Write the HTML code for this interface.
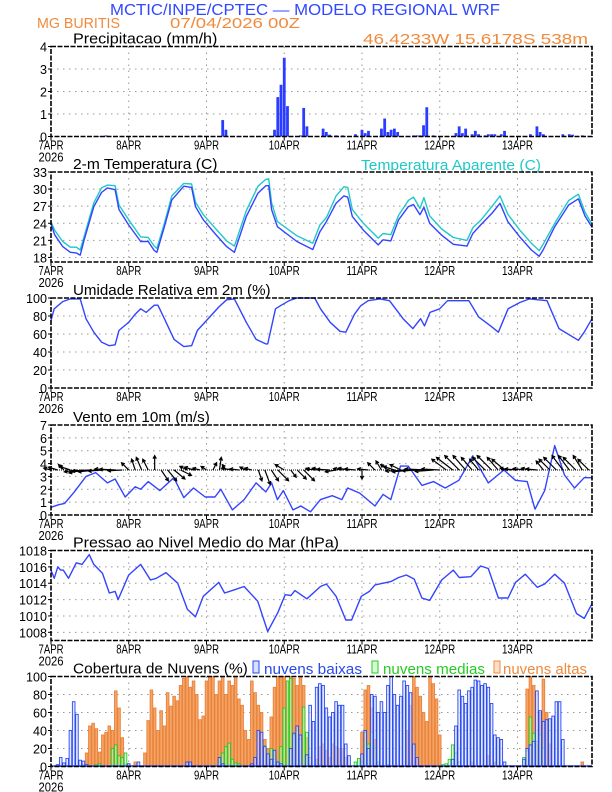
<!DOCTYPE html>
<html><head><meta charset="utf-8"><style>
html,body{margin:0;padding:0;background:#fff}
svg{display:block;font-family:"Liberation Sans",sans-serif}
</style></head><body>
<svg id="chart" width="612" height="792" viewBox="0 0 612 792" xmlns="http://www.w3.org/2000/svg">
<rect x="0" y="0" width="612" height="792" fill="#fff"/>
<text x="110" y="15" font-size="16" fill="#3048ff" textLength="390" lengthAdjust="spacingAndGlyphs">MCTIC/INPE/CPTEC — MODELO REGIONAL WRF</text>
<text x="37" y="28" font-size="15" fill="#f08a3c" textLength="83" lengthAdjust="spacingAndGlyphs">MG BURITIS</text>
<text x="170" y="28" font-size="15" fill="#f08a3c" textLength="130" lengthAdjust="spacingAndGlyphs">07/04/2026 00Z</text>
<text x="363" y="44" font-size="15" fill="#f08a3c" textLength="225" lengthAdjust="spacingAndGlyphs">46.4233W 15.6178S 538m</text>
<text x="361" y="170" font-size="15" fill="#20c8c8" textLength="180" lengthAdjust="spacingAndGlyphs">Temperatura Aparente (C)</text>
<g>
<rect x="253" y="661" width="6" height="12" fill="#d8e0ff" stroke="#2848ee"/>
<text x="264" y="674" font-size="15" fill="#2848ee" textLength="98" lengthAdjust="spacingAndGlyphs">nuvens baixas</text>
<rect x="372" y="661" width="6" height="12" fill="#d8ffd8" stroke="#22cc22"/>
<text x="383" y="674" font-size="15" fill="#22cc22" textLength="102" lengthAdjust="spacingAndGlyphs">nuvens medias</text>
<rect x="494" y="661" width="6" height="12" fill="#ffe0c8" stroke="#f08a3c"/>
<text x="503" y="674" font-size="15" fill="#f08a3c" textLength="84" lengthAdjust="spacingAndGlyphs">nuvens altas</text>
</g>
</svg>
<script>
// ---------- data ----------
const dayLabels = ["7APR","8APR","9APR","10APR","11APR","12APR","13APR"];
const precipHours = [15,17,46,53,54,69,70,71,72,73,77,78,79,84,85,86,88,90,94,96,97,98,102,103,104,105,106,107,112,113,114,115,116,118,125,126,127,128,130,131,132,134,135,136,137,139,140,148,150,151,152,158,160,161,164];
const precipValues = [0.02,0.05,0.05,0.73,0.3,0.3,1.75,2.3,3.5,1.35,0.05,1.27,0.45,0.35,0.2,0.08,0.05,0.05,0.1,0.3,0.15,0.25,0.35,0.8,0.2,0.3,0.35,0.2,0.05,0.05,0.05,0.5,1.3,0.05,0.15,0.45,0.15,0.35,0.1,0.25,0.1,0.05,0.1,0.1,0.1,0.1,0.25,0.1,0.45,0.2,0.1,0.1,0.1,0.08,0.05];

const tempHours = [0,1.1,3.6,6,7.8,9,10.2,13.2,15.6,17.4,19.8,21,24,27.7,30,31.9,32.7,35,37.3,41,43.4,44.6,47,50.6,54.2,56.6,60.3,63.9,66.3,67.2,68.1,69.9,75.9,80.8,83,85,88,90.4,91.6,93,96.4,101,102.5,104.9,107.3,110.3,111.9,113.9,115.1,116.9,120.6,124.2,128.4,130.2,132.6,136.2,138.6,141,144.7,148.3,150.7,151.9,155.5,159.8,162.8,164.8,167];
const tempValues = [24.0,22,19.9,18.9,18.8,18.4,21,26.9,29.4,30.2,29.9,26.4,23.7,20.8,20.8,19.2,18.9,23.4,28.1,30.5,30.3,26.9,24.6,22.2,19.9,18.9,25.2,29.3,30.6,30.6,26.4,23.4,20.8,19.4,22.5,24.3,27.5,28.8,28.6,25.2,22.8,20.2,21.1,20.9,24.6,26.9,27.3,25.5,26.8,24,21.9,20.3,20.0,22.2,23.7,25.8,27.5,24.3,21.6,19.3,18.2,19.3,23.4,27.2,28.3,25.3,23.3];
const apparentValues = [24.3,22.8,20.8,19.8,19.8,19.3,21.6,27.6,30.2,30.7,30.6,27.2,24.6,21.6,21.5,20.0,19.6,24.0,28.8,31.0,30.9,27.7,25.5,23.2,20.9,20.0,26.2,30.5,31.7,31.8,27.6,24.3,21.8,20.5,23.7,25.0,28.8,30.4,30.3,26.4,24.0,21.4,22.2,22.0,25.4,28.0,28.6,26.6,28.5,25.3,23.0,21.5,21.0,23.2,24.5,27.0,28.8,25.6,22.8,20.5,19.2,20.3,24.0,28.0,29.1,26.0,23.8];

const rhHours = [0,1,3.6,6,9,10.8,13.2,15.6,18,19.8,21,24,26,27.7,29.4,31.9,33,35,38,41,43.4,45.2,48,51.8,54.2,56.6,60.3,63.3,66.3,66.9,69.3,71.1,73.5,75.9,81.4,83.2,86.2,89.2,91,93.7,95.5,97.9,101.5,104.5,108.7,111.7,114.1,115.3,117,120,122.4,129,132,135.7,138.1,141.1,144.7,147.7,153.1,156.8,162.8,164.6,167];
const rhValues = [75,88,96,99,99,77,62,51,47,48,64,73,82,88,84,92,92,77,54,46,47,64,75,90,98,99,73,54,49,49,88,92,97,100,100,88,73,63,62,82,91,97,99,97,77,66,77,69,84,88,97,97,79,69,62,88,95,99,97,66,53,62,77];

const windSpeedHours = [0,2.4,4.2,7.2,10.8,13.8,17.4,19.8,22.9,26,27.7,30,33.6,37.9,41,44,47.6,50.6,52.4,56,59.6,63.3,66.3,68.1,69.9,71.7,74.7,77.1,80.1,83.2,86.8,89.8,91.6,95.3,100,102.5,104.9,107.9,110.3,114.5,118.1,121.7,125.9,130.2,135,139.8,143.4,147,149.4,152.4,155.5,158.5,161.6,164.6,167];
const windSpeedValues = [0.6,0.8,0.9,1.8,3.0,3.3,2.5,2.8,1.4,2.2,2.0,2.6,1.9,2.9,1.35,2.1,1.4,1.4,2.0,0.4,1.2,2.5,1.8,2.5,1.2,1.9,0.4,0.7,0.25,1.2,1.5,1.2,2.1,1.7,0.7,1.6,1.2,3.8,3.8,2.3,2.6,2.1,2.7,4.6,2.5,3.5,2.7,2.6,0.45,1.9,5.4,3.1,2.1,2.9,2.9];
const windU = [-2,-2.5,-1.5,-3,-3.5,-4, -5,-5,-4,-4,-4.5,-4, -2,-1,-1.5,-1.5,0, 2,2.5,3,3, -2,-2.5,-2,-1.5, 1,0.5,-1, -3,-2.5,-1.5,-2, 1,1.5,2,3, -2.5,1.5,2.5,3,-1, -3,-3,-3.5,-3,-2.5,-3,-3, 0,-3, -2,-1.5,-2,-3,-3, -6,-6,-5,-6,-5,-5, -4,-4.5,-4,-3.5,-3,-2.5,-3.5,-4,-3,-3.5, -3,-3.5,-3,-2.5,-3, -2,-3,-3.5,-3,-3,-3.5,-2.5,-3];
const windV = [0.5,0.8,1.5,1,-0.5,-0.8, -0.3,-0.5,-0.3,0.3,0.2,-0.2, 2,3,3.5,3,4, -3,-3,-2.5,-1.5, 1,0.8,0.5,1, 2,3.5,1.5, 0.5,0.3,0.8,0.5, -3,-4,-3,-3, 1.5,-2,-2.5,-3,0.5, 0.3,0.5,0.2,-0.5,0.4,0.5,0.3, -2.5,0.3, 2,2.5,1.5,1,1.5, -0.3,-0.5,-0.2,0.3,-0.4,0.3, 3,3.5,4,4,3.5,3,3.5,4,3.5,3, 0.5,0.3,0.4,0.5,0.3, 2.5,3,3.5,4,4,3.5,4,3];

const presHours = [0,1,2.1,3,3.8,5.4,7.8,9.6,11.8,13.2,15.9,18,19.8,20.7,24,27.7,30.7,32.5,35.5,39.1,42.1,44.6,47,51.8,53.6,56.6,59.6,63.8,66.9,70,72.3,74.1,75.3,79,83.2,85,88,91,92.8,95.8,98.3,100,104.9,107.3,109.7,112.1,114.5,116.9,120.6,124.2,126,129.6,132.6,135,138.1,141.1,143.4,146.4,150.1,152.4,155.5,158.5,162.2,164.6,167];
const presValues = [1015.6,1014.6,1016.0,1015.6,1015.6,1014.6,1016.5,1016.3,1017.5,1016.3,1015.2,1012.8,1013.0,1012.0,1015.0,1016.3,1014.4,1014.6,1015.3,1014.0,1010.8,1009.9,1012.4,1014.1,1012.8,1013.2,1013.6,1011.8,1008.1,1010.4,1012.6,1012.5,1013.1,1012.1,1013.6,1013.9,1012.4,1009.5,1009.5,1012.4,1013.0,1013.8,1014.2,1014.7,1015.0,1014.5,1012.2,1011.9,1014.4,1015.6,1014.7,1014.8,1016.1,1015.8,1012.2,1012.2,1014.1,1015.1,1013.5,1013.9,1015.1,1014.0,1010.3,1009.7,1011.5];

const cloudLow = [0,0,2,10,4,9,40,72,58,7,6,2,0,0,0,0,0,0,0,0,0,0,0,0,3,0,0,5,0,0,0,0,0,0,0,0,0,0,0,0,0,0,5,5,0,0,0,0,0,0,0,0,10,3,0,0,0,0,0,0,0,0,3,10,40,38,22,14,8,18,5,3,0,0,20,37,45,35,0,13,68,50,88,92,90,65,55,60,72,68,68,25,12,0,0,0,14,40,20,80,78,60,72,60,90,100,80,68,78,95,90,82,25,10,0,0,0,0,0,0,0,0,0,0,8,45,85,78,70,84,88,96,95,90,92,88,70,35,32,30,5,0,0,0,0,0,8,20,24,28,84,62,50,52,53,56,72,72,30,0,0,0,0,0,0,0,0,0,0];
const cloudMid = [0,0,0,0,0,0,0,0,0,0,2,0,0,0,2,3,0,0,0,20,24,12,10,15,3,0,0,0,0,0,0,0,0,0,0,0,0,0,0,0,0,0,0,0,0,0,0,0,0,0,0,0,5,15,22,26,8,4,3,0,0,0,0,0,0,0,23,0,20,8,0,22,65,95,98,35,40,30,66,38,10,0,0,2,0,0,0,0,0,0,0,0,0,0,5,9,5,38,25,38,20,5,0,0,2,0,0,0,0,0,0,0,0,0,0,0,0,0,0,0,0,2,3,8,24,15,5,0,0,0,0,0,0,0,0,0,0,3,0,0,0,0,0,0,0,0,10,17,55,37,28,35,20,0,0,0,0,0,0,0,0,0,0,0,0,0,0];
const cloudHigh = [0,0,0,0,0,0,0,0,0,0,0,15,45,48,42,16,35,38,45,40,84,65,32,3,0,0,5,0,0,15,51,85,65,40,62,45,82,67,78,73,90,98,100,88,95,80,52,56,95,100,100,80,95,100,80,95,90,100,75,68,40,30,95,82,68,60,30,20,55,88,100,100,100,95,100,98,90,100,90,32,3,0,8,22,25,18,10,25,22,20,20,10,0,0,0,0,38,85,90,65,30,5,0,0,0,0,0,0,0,0,40,68,100,88,78,60,50,100,92,75,35,0,0,0,0,0,0,0,0,0,5,0,0,0,0,12,0,5,0,0,0,0,0,0,0,0,0,86,100,90,25,60,97,60,25,0,0,0,0,0,0,0,0,0,5,0,0,0];

// ---------- layout ----------
const svg = document.getElementById('chart');
const NS = 'http://www.w3.org/2000/svg';
const X0 = 51, X1 = 592, HMAX = 167;
function x(h){ return X0 + h*(X1-X0)/HMAX; }
function mk(tag, attrs, parent){
  const e = document.createElementNS(NS, tag);
  for (const k in attrs) e.setAttribute(k, attrs[k]);
  (parent||svg).appendChild(e);
  return e;
}
function panel(key, top, ymin, ymax, ticks, title){
  const bot = top+90;
  const g = mk('g', {});
  
  
  const y = v => bot - (v-ymin)/(ymax-ymin)*90;
  ticks.forEach(t=>{
    if (t>ymin && t<ymax){
      const l = mk('line',{x1:X0,x2:X1,y1:y(t),y2:y(t),stroke:'#999','stroke-width':1,'stroke-dasharray':'1.5,4.5'},g);
      
      
    }
    const s = String(t);
    const tx = mk('text',{x:X0-4,y:y(t)+5,'text-anchor':'end','font-size':13,fill:'#000',textLength:s.length*7,lengthAdjust:'spacingAndGlyphs'},g);
    tx.textContent = s;
    
    
    mk('line',{x1:X0-3,x2:X0,y1:y(t),y2:y(t),stroke:'#000'},g);
  });
  dayLabels.forEach((d,i)=>{
    const xx = x(i*24);
    if (i>0){
      const l = mk('line',{x1:xx,x2:xx,y1:top,y2:bot,stroke:'#999','stroke-width':1,'stroke-dasharray':'1.5,4.5'},g);
      
      
    }
    mk('line',{x1:xx,x2:xx,y1:bot,y2:bot+4,stroke:'#000'},g);
    const tx = mk('text',{x:xx,y:bot+13,'text-anchor':'middle','font-size':13,fill:'#000',textLength:d.length>4?31:25,lengthAdjust:'spacingAndGlyphs'},g);
    tx.textContent = d;
    
    
  });
  const yr = mk('text',{x:x(0),y:bot+25,'text-anchor':'middle','font-size':13,fill:'#000',textLength:25,lengthAdjust:'spacingAndGlyphs'},g);
  yr.textContent = '2026';
  
  
  const tt = mk('text',{x:73,y:top-3,'font-size':15,fill:'#000',textLength:title.length*7.6,lengthAdjust:'spacingAndGlyphs'},g);
  tt.textContent = title;
  
  
  return {g, y, top, bot};
}
function frame(p, key){
  const r = mk('rect',{x:X0,y:p.top,width:X1-X0,height:90,fill:'none',stroke:'#000','stroke-width':1.6,'stroke-dasharray':'5,1.5'},p.g);
  
  
}
function line(p, hs, vs, color, name){
  const d = hs.map((h,i)=>(i?'L':'M')+x(h).toFixed(1)+','+p.y(vs[i]).toFixed(1)).join(' ');
  const l = mk('path',{d, fill:'none', stroke:color, 'stroke-width':1.4,'stroke-linejoin':'round'},p.g);
  
  
}

const p1 = panel('precip', 46.5, 0, 4, [0,1,2,3,4], 'Precipitacao (mm/h)');
precipHours.forEach((h,i)=>{
  const v = precipValues[i];
  const b = mk('rect',{x:x(h)-1.4,y:p1.y(v),width:2.8,height:p1.bot-p1.y(v),fill:'#2a3cff'},p1.g);
  
  
});
frame(p1,'precip');

const p2 = panel('temp', 172, 17.2, 33, [18,21,24,27,30,33], '2-m Temperatura (C)');
line(p2, tempHours, apparentValues, '#20c8c8', 'apparent-temp-line');
line(p2, tempHours, tempValues, '#3344ff', 'temp-line');
frame(p2,'temp');

const p3 = panel('rh', 298, 0, 100, [0,20,40,60,80,100], 'Umidade Relativa em 2m (%)');
line(p3, rhHours, rhValues, '#3344ff', 'rh-line');
frame(p3,'rh');

const p4 = panel('wind', 425, 0, 7, [0,1,2,3,4,5,6,7], 'Vento em 10m (m/s)');
line(p4, windSpeedHours, windSpeedValues, '#3344ff', 'wind-speed-line');
const baseY = p4.y(3.5);
windU.forEach((u,i)=>{
  const h = i*2;
  const x0 = x(h), x1 = x0 + u*3.6, y1 = baseY - windV[i]*3.6;
  const a = mk('path',{d:'', fill:'none', stroke:'#000','stroke-width':1.2},p4.g);
  const ang = Math.atan2(y1-baseY, x1-x0);
  const hx1 = x1 - 3.5*Math.cos(ang-0.5), hy1 = y1 - 3.5*Math.sin(ang-0.5);
  const hx2 = x1 - 3.5*Math.cos(ang+0.5), hy2 = y1 - 3.5*Math.sin(ang+0.5);
  a.setAttribute('d', `M${x0},${baseY} L${x1},${y1} M${hx1},${hy1} L${x1},${y1} L${hx2},${hy2}`);
  
  
});
const bl = mk('line',{x1:X0,x2:X1,y1:baseY,y2:baseY,stroke:'#000','stroke-width':1,'stroke-dasharray':'1,1'},p4.g);


frame(p4,'wind');

const p5 = panel('pressure', 550.5, 1007, 1018, [1008,1010,1012,1014,1016,1018], 'Pressao ao Nivel Medio do Mar (hPa)');
line(p5, presHours, presValues, '#3344ff', 'pressure-line');
frame(p5,'pressure');

const p6 = panel('cloud', 676.5, 0, 100, [0,20,40,60,80,100], 'Cobertura de Nuvens (%)');
function bars(arr, fill, stroke, name){
  arr.forEach((v,h)=>{
    if (v<=0) return;
    const b = mk('rect',{x:x(h)-1.3,y:p6.y(v),width:2.6,height:p6.bot-p6.y(v),fill,stroke,'stroke-width':0.9},p6.g);
    
    
  });
}
bars(cloudHigh, '#f5a466', '#e8823a', 'high-cloud-bar');
bars(cloudMid, 'rgba(200,255,200,0.5)', '#22cc22', 'mid-cloud-bar');
bars(cloudLow, 'rgba(210,220,255,0.6)', '#2848ee', 'low-cloud-bar');
const zl = mk('line',{x1:X0,x2:X1,y1:p6.bot-0.5,y2:p6.bot-0.5,stroke:'#2848ee','stroke-width':1.5},p6.g);


frame(p6,'cloud');
</script>
</body></html>
